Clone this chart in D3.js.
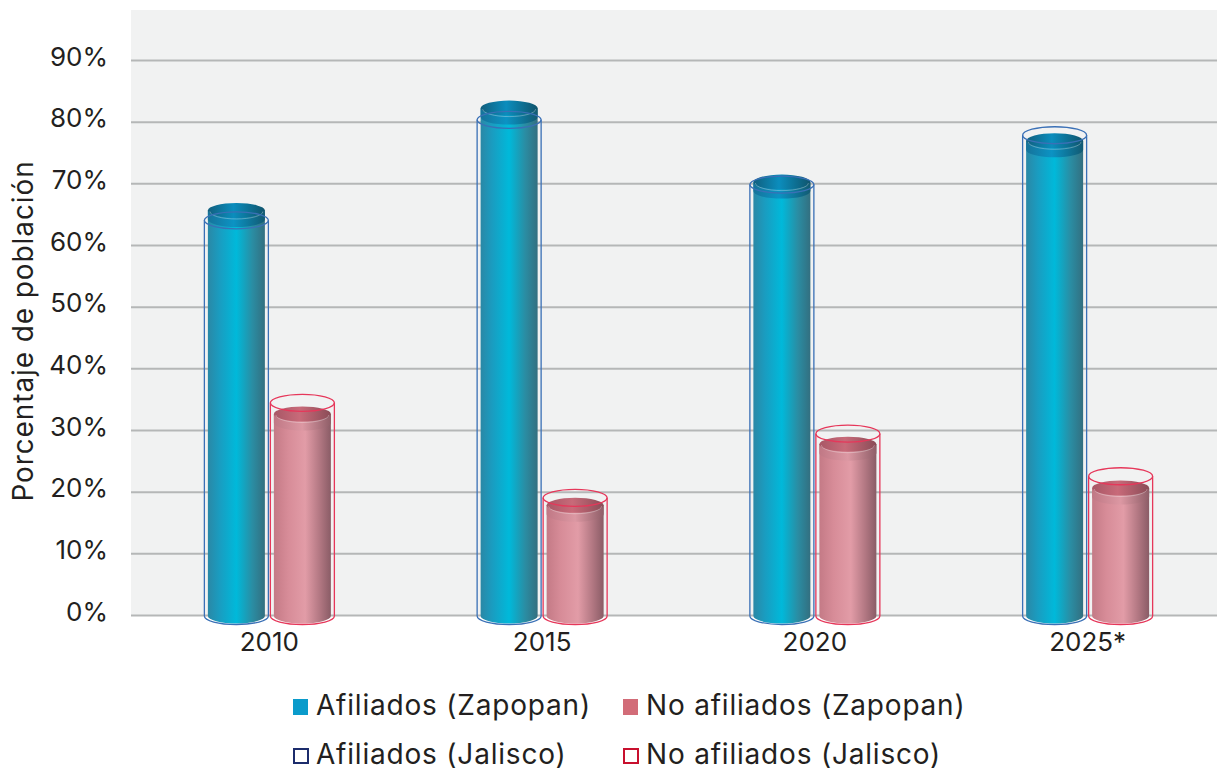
<!DOCTYPE html>
<html>
<head>
<meta charset="utf-8">
<script src="https://cdn.jsdelivr.net/npm/d3@7"></script>
<style>
  body { margin: 0; background: #fff; }
  text { font-family: Inter, "Open Sans", sans-serif; fill: #231f20; }
</style>
</head>
<body>
<div id="chart"></div>
<script>
// values (percent of population)
var years      = ["2010", "2015", "2020", "2025*"]
var afilZap    = [65.6, 82.2, 70.2, 76.9]
var noAfilZap  = [32.6, 17.8, 27.7, 20.6]
var afilJal    = [64.0, 80.3, 69.8, 77.8]
var noAfilJal  = [34.4, 19.0, 29.4, 22.5]
var yTicks     = [0, 10, 20, 30, 40, 50, 60, 70, 80, 90]
var legendRows = [
  [{label: "Afiliados (Zapopan)", kind: "fill", color: "#0a9bcb"},
   {label: "No afiliados (Zapopan)", kind: "fill", color: "#d26c78"}],
  [{label: "Afiliados (Jalisco)", kind: "line", color: "#1c2c6c"},
   {label: "No afiliados (Jalisco)", kind: "line", color: "#c8102e"}]
]

var width = 1217, height = 771
var plot = {left: 131, right: 1217, top: 10, bottom: 615}

var svg = d3.select('#chart').append('svg')
    .attr('width', width)
    .attr('height', height)

var defs = svg.append('defs')
function hGrad(id, stops) {
  var g = defs.append('linearGradient').attr('id', id)
      .attr('x1', '0%').attr('x2', '100%').attr('y1', '0%').attr('y2', '0%')
  stops.forEach(function(s) {
    g.append('stop').attr('offset', s[0]).attr('stop-color', s[1])
  })
}
hGrad('bodyBlue', [['0%', '#2a88a6'], ['20%', '#1a9cc0'], ['50%', '#00b9da'], ['78%', '#2a8da3'], ['100%', '#336f80']])
hGrad('capBlue',  [['0%', '#115f7e'], ['45%', '#0b8dbd'], ['100%', '#0f546c']])
hGrad('bandBlue', [['0%', '#16739a'], ['45%', '#0b93c4'], ['100%', '#125a72']])
hGrad('bodyPink', [['0%', '#c47a86'], ['25%', '#d78c98'], ['55%', '#e29ca7'], ['80%', '#b37883'], ['100%', '#8a5c66']])
hGrad('capPink',  [['0%', '#a85766'], ['45%', '#c86a79'], ['100%', '#8a4c57']])
hGrad('bandPink', [['0%', '#c07885'], ['50%', '#dc98a3'], ['100%', '#8f5e68']])

var x = d3.scaleBand().domain(years).range([133, 1224])
var y = d3.scaleLinear().domain([0, 90]).range([plot.bottom, 60])

// plot background
svg.append('rect')
    .attr('x', plot.left).attr('y', plot.top)
    .attr('width', plot.right - plot.left)
    .attr('height', plot.bottom - plot.top)
    .attr('fill', '#f1f2f2')

// gridlines + y labels
var yAxis = d3.axisLeft(y).tickValues(yTicks)
    .tickSizeInner(-(plot.right - plot.left)).tickSizeOuter(0)
    .tickPadding(23)
    .tickFormat(function(d) { return d + '%' })
var gy = svg.append('g')
    .attr('transform', 'translate(' + plot.left + ',0)')
    .call(yAxis)
gy.select('.domain').remove()
gy.selectAll('.tick line').attr('stroke', '#b5b7b7').attr('stroke-width', 2)
gy.selectAll('.tick text')
    .attr('font-size', 26).attr('dy', '0.2em')
    .style('font-family', 'Inter, sans-serif').attr('fill', '#231f20')

// x labels
var xAxis = d3.axisBottom(x).tickSize(0).tickPadding(16)
var gx = svg.append('g')
    .attr('transform', 'translate(0,' + plot.bottom + ')')
    .call(xAxis)
gx.select('.domain').remove()
gx.selectAll('.tick text')
    .attr('font-size', 26).attr('dy', '0.75em')
    .style('font-family', 'Inter, sans-serif').attr('fill', '#231f20')

// y title
svg.append('text')
    .attr('transform', 'translate(33,331) rotate(-90)')
    .attr('text-anchor', 'middle')
    .attr('font-size', 28)
    .attr('letter-spacing', 0.9)
    .text('Porcentaje de población')

var base = y(0) + 1

function cylinder(g, cx, value, rx, ry, body, band, cap) {
  var yt = y(value), bandH = 9
  // body with rounded bottom
  g.append('path')
      .attr('d', 'M' + (cx - rx) + ',' + yt +
                 'L' + (cx - rx) + ',' + base +
                 'A' + rx + ',' + ry + ' 0 0 0 ' + (cx + rx) + ',' + base +
                 'L' + (cx + rx) + ',' + yt + 'Z')
      .attr('fill', 'url(#' + body + ')')
  // rim band just under the top face
  g.append('path')
      .attr('d', 'M' + (cx - rx) + ',' + yt +
                 'L' + (cx - rx) + ',' + (yt + bandH) +
                 'A' + rx + ',' + ry + ' 0 0 0 ' + (cx + rx) + ',' + (yt + bandH) +
                 'L' + (cx + rx) + ',' + yt +
                 'A' + rx + ',' + ry + ' 0 0 1 ' + (cx - rx) + ',' + yt + 'Z')
      .attr('fill', 'url(#' + band + ')')
  g.append('ellipse')
      .attr('cx', cx).attr('cy', yt)
      .attr('rx', rx).attr('ry', ry)
      .attr('fill', 'url(#' + cap + ')')
  g.append('path')
      .attr('d', 'M' + (cx - rx + 2) + ',' + (yt + 1) +
                 'A' + (rx - 2) + ',' + ry + ' 0 0 0 ' + (cx + rx - 2) + ',' + (yt + 1))
      .attr('fill', 'none').attr('stroke', '#ffffff').attr('stroke-opacity', 0.3)
}

function outline(g, cx, value, rx, ry, color) {
  var yt = y(value)
  g.append('path')
      .attr('d', 'M' + (cx - rx) + ',' + yt +
                 'L' + (cx - rx) + ',' + base +
                 'A' + rx + ',' + ry + ' 0 0 0 ' + (cx + rx) + ',' + base +
                 'L' + (cx + rx) + ',' + yt)
      .attr('fill', 'none').attr('stroke', color).attr('stroke-width', 1.3)
  g.append('ellipse')
      .attr('cx', cx).attr('cy', yt)
      .attr('rx', rx).attr('ry', ry)
      .attr('fill', 'none').attr('stroke', color).attr('stroke-width', 1.3)
}

var bars = svg.append('g')
var off = 33
years.forEach(function(yr, i) {
  var c = x(yr) + x.bandwidth() / 2
  cylinder(bars, c - off, afilZap[i], 28.5, 7.5, 'bodyBlue', 'bandBlue', 'capBlue')
  outline(bars, c - off, afilJal[i], 32, 8.5, '#3a70b6')
  cylinder(bars, c + off, noAfilZap[i], 28.5, 7.5, 'bodyPink', 'bandPink', 'capPink')
  outline(bars, c + off, noAfilJal[i], 32, 8.5, '#e6375a')
})

// legend
var legX = [293, 623], legY = [715, 764]
legendRows.forEach(function(row, r) {
  row.forEach(function(item, k) {
    var g = svg.append('g').attr('transform', 'translate(' + legX[k] + ',' + legY[r] + ')')
    if (item.kind === 'fill') {
      g.append('rect').attr('x', 0).attr('y', -16).attr('width', 15).attr('height', 16)
          .attr('fill', item.color)
    } else {
      g.append('rect').attr('x', 1).attr('y', -15).attr('width', 14).attr('height', 14)
          .attr('fill', '#fff').attr('stroke', item.color).attr('stroke-width', 2)
    }
    g.append('text').attr('x', 23).attr('y', 0)
        .attr('font-size', 28)
        .attr('letter-spacing', 0.8)
        .text(item.label)
  })
})
</script>
</body>
</html>
